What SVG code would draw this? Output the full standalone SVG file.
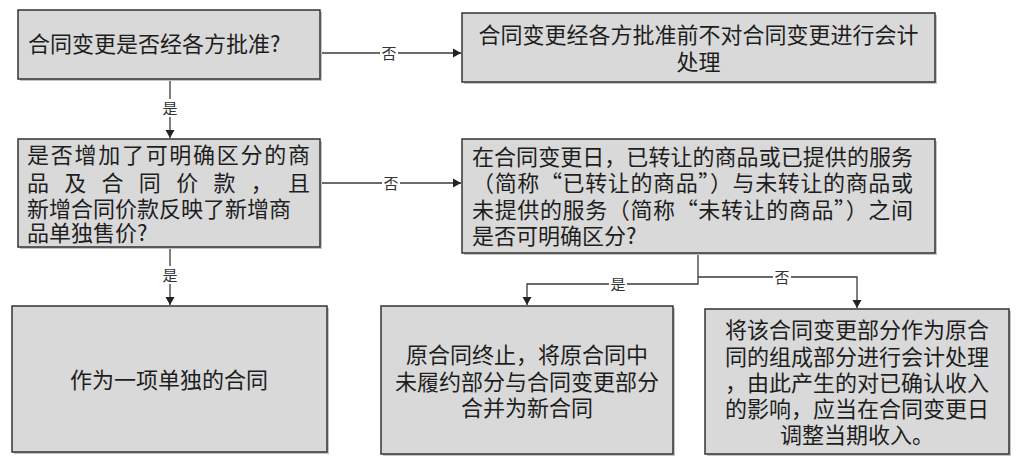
<svg xmlns="http://www.w3.org/2000/svg" width="1022" height="468" viewBox="0 0 1022 468">
<style>
.box{fill:#d9d9d9;stroke:#333;stroke-width:1.5}
.sh{fill:#c4c4c4}
.t{font-family:"Noto Sans CJK SC","Noto Sans",sans-serif;font-size:22px;fill:#1e1e1e}
.c{text-anchor:middle}
.ln{fill:none;stroke:#3a3a3a;stroke-width:1.3}
.lb{font-family:"Noto Sans CJK SC","Noto Sans",sans-serif;font-size:15px;fill:#333;text-anchor:middle}
.bg{fill:#fff}
</style>
<defs>
<marker id="ah" markerUnits="userSpaceOnUse" markerWidth="9" markerHeight="10" refX="8" refY="5" orient="auto">
<path d="M0,0.5 L8,5 L0,9.5 z" fill="#222"/>
</marker>
</defs>
<rect width="1022" height="468" fill="#fff"/>
<g id="connectors">
<path class="ln" d="M320,53 H461" marker-end="url(#ah)"/>
<path class="ln" d="M170,79 V138" marker-end="url(#ah)"/>
<path class="ln" d="M320,183 H461" marker-end="url(#ah)"/>
<path class="ln" d="M170,247 V305" marker-end="url(#ah)"/>
<path class="ln" d="M698,253 V284 H527 V305" marker-end="url(#ah)"/>
<path class="ln" d="M698,277 H857 V308" marker-end="url(#ah)"/>
<rect class="bg" x="380" y="44" width="18" height="18"/>
<text class="lb" x="389" y="59">否</text>
<rect class="bg" x="382" y="174" width="18" height="18"/>
<text class="lb" x="391" y="189">否</text>
<rect class="bg" x="161" y="99" width="18" height="18"/>
<text class="lb" x="170" y="114">是</text>
<rect class="bg" x="161" y="266" width="18" height="18"/>
<text class="lb" x="170" y="281">是</text>
<rect class="bg" x="609" y="275" width="18" height="18"/>
<text class="lb" x="618" y="290">是</text>
<rect class="bg" x="773" y="268" width="18" height="18"/>
<text class="lb" x="782" y="283">否</text>
</g>
<g id="n1">
<rect class="sh" x="20" y="12" width="302" height="69"/>
<rect class="box" x="18" y="10" width="302" height="69"/>
<text class="t" x="28" y="52">合同变更是否经各方批准?</text>
</g>
<g id="n2">
<rect class="sh" x="464" y="15" width="473" height="69"/>
<rect class="box" x="462" y="13" width="473" height="69"/>
<text class="t c" x="698.5" y="43">合同变更经各方批准前不对合同变更进行会计</text>
<text class="t c" x="698.5" y="70">处理</text>
</g>
<g id="n3">
<rect class="sh" x="20" y="141" width="302" height="108"/>
<rect class="box" x="18" y="139" width="302" height="108"/>
<text class="t" x="27" y="163" textLength="283" lengthAdjust="spacing">是否增加了可明确区分的商</text>
<text class="t" x="27" y="191" textLength="283" lengthAdjust="spacing">品及合同价款，且</text>
<text class="t" x="27" y="217">新增合同价款反映了新增商</text>
<text class="t" x="27" y="241">品单独售价?</text>
</g>
<g id="n4">
<rect class="sh" x="464" y="141" width="473" height="114"/>
<rect class="box" x="462" y="139" width="473" height="114"/>
<text class="t" x="472" y="165" textLength="441" lengthAdjust="spacing">在合同变更日，已转让的商品或已提供的服务</text>
<text class="t" x="472" y="191" textLength="441" lengthAdjust="spacing">（简称“已转让的商品”）与未转让的商品或</text>
<text class="t" x="472" y="218" textLength="441" lengthAdjust="spacing">未提供的服务（简称“未转让的商品”）之间</text>
<text class="t" x="472" y="244">是否可明确区分?</text>
</g>
<g id="n5">
<rect class="sh" x="14" y="308" width="315" height="146"/>
<rect class="box" x="12" y="306" width="315" height="146"/>
<text class="t c" x="169" y="388">作为一项单独的合同</text>
</g>
<g id="n6">
<rect class="sh" x="383" y="308" width="292" height="148"/>
<rect class="box" x="381" y="306" width="292" height="148"/>
<text class="t c" x="527" y="363">原合同终止，将原合同中</text>
<text class="t c" x="527" y="390">未履约部分与合同变更部分</text>
<text class="t c" x="527" y="416">合并为新合同</text>
</g>
<g id="n7">
<rect class="sh" x="707" y="311" width="304" height="145"/>
<rect class="box" x="705" y="309" width="304" height="145"/>
<text class="t c" x="857" y="338">将该合同变更部分作为原合</text>
<text class="t c" x="857" y="364.5">同的组成部分进行会计处理</text>
<text class="t c" x="857" y="391">，由此产生的对已确认收入</text>
<text class="t c" x="857" y="417">的影响，应当在合同变更日</text>
<text class="t c" x="857" y="443">调整当期收入。</text>
</g>
</svg>
